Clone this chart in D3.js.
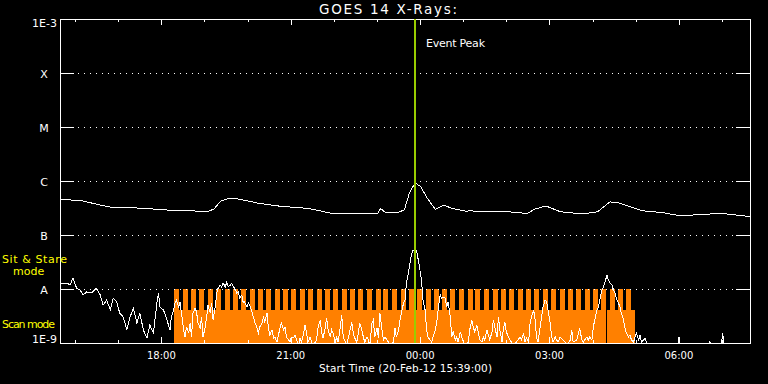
<!DOCTYPE html>
<html>
<head>
<meta charset="utf-8">
<script src="https://cdn.jsdelivr.net/npm/d3@7"></script>
<style>
  html, body { margin: 0; padding: 0; background: #000; }
  svg { display: block; }
  text { font-family: "DejaVu Sans", sans-serif; fill: #fff; }
</style>
</head>
<body>
<div id="chart"></div>
<script>
// GOES 14 X-ray flux, 20-Feb-12 15:39 to 21-Feb-12 07:39 (minutes since start)
var startTime = Date.UTC(2012, 1, 20, 15, 39);
var spanMinutes = 960;
var eventPeakMinute = 494;
var NANO = 1e-9;

// long channel (1-8 A), W/m^2
var longChannel = [
    [0, 4.6e-7], [30, 4.3e-7], [56, 3.6e-7], [69, 3.3e-7], [101, 3.2e-7], [134, 3.0e-7],
    [165, 2.8e-7], [185, 2.8e-7], [204, 2.7e-7], [214, 3.0e-7], [224, 4.3e-7], [236, 4.8e-7],
    [250, 4.6e-7], [275, 3.9e-7], [307, 3.4e-7], [346, 3.1e-7], [379, 2.5e-7], [424, 2.45e-7],
    [442, 2.5e-7], [446, 3.1e-7], [453, 2.6e-7], [469, 2.6e-7], [479, 2.9e-7], [486, 5.9e-7],
    [494, 9.3e-7], [502, 7.8e-7], [511, 4.8e-7], [522, 3.0e-7], [534, 3.55e-7], [546, 3.1e-7],
    [566, 2.75e-7], [572, 2.9e-7], [576, 2.75e-7], [617, 2.75e-7], [650, 2.5e-7], [660, 3.0e-7],
    [676, 3.45e-7], [696, 2.7e-7], [728, 2.45e-7], [748, 2.7e-7], [765, 4.1e-7], [776, 4.0e-7],
    [811, 2.8e-7], [838, 2.6e-7], [864, 2.25e-7], [889, 2.4e-7], [921, 2.5e-7], [960, 2.2e-7]
];

// short channel (0.5-4 A), in units of 1E-9 W/m^2
var shortChannel = [
    [0,12.9],[4,12.4],[10,12.9],[14,11.8],[18,16.0],[21,12.4],[23,10.4],[28,9.58],[32,7.74],[37,8.80],
    [44,8.43],[51,10.4],[56,7.74],[60,5.05],[65,6.26],[70,4.08],[74,6.81],[79,5.75],[83,3.59],[88,3.03],
    [93,1.74],[97,2.90],[102,4.44],[107,2.34],[111,3.59],[116,1.74],[121,1.24],[125,2.15],[130,1.53],[135,5.75],
    [137,8.43],[139,4.64],[144,4.08],[148,2.90],[153,1.74],[155,3.03],[158,4.08],[160,5.51],[162,6.26],[165,4.64],
    [167,5.75],[169,3.59],[172,1.74],[174,1.29],[176,1.98],[179,1.53],[181,2.34],[183,1.29],[185,3.59],[188,4.44],
    [190,3.75],[192,2.34],[195,1.90],[197,3.03],[199,1.29],[202,1.98],[204,3.03],[206,5.05],[209,3.59],[211,5.51],
    [213,2.67],[216,4.64],[218,8.43],[220,10.4],[223,11.8],[225,10.9],[227,12.9],[230,10.9],[232,13.5],[234,10.9],
    [237,11.8],[239,12.9],[241,10.9],[243,10.4],[246,8.43],[248,8.80],[250,6.81],[253,7.74],[255,5.51],[257,5.75],
    [260,4.64],[262,5.51],[264,5.05],[267,3.75],[269,3.03],[271,2.45],[274,1.90],[276,1.53],[278,1.98],[281,2.34],
    [283,3.03],[285,2.45],[288,3.59],[290,1.90],[292,1.41],[295,1.74],[297,1.24],[299,1.29],[302,1.04],[304,1.41],
    [306,1.90],[308,2.34],[311,1.74],[313,1.98],[315,1.29],[318,1.14],[320,1.04],[322,1.29],[325,1.24],[327,1.41],
    [329,1.14],[332,0.9],[334,1.24],[336,1.04],[339,1.53],[341,2.15],[343,1.53],[345,1.04],[348,1.29],[350,1.04],
    [352,0.9],[357,1.14],[359,1.90],[362,2.67],[364,1.53],[366,1.24],[369,1.90],[371,2.90],[373,1.74],[376,1.29],
    [378,1.74],[380,1.53],[383,1.04],[385,1.29],[387,1.04],[390,1.98],[392,3.30],[394,1.29],[397,1.04],[399,0.9],
    [401,1.24],[403,1.60],[406,2.45],[408,1.53],[410,1.24],[413,1.04],[415,1.53],[417,2.34],[420,1.74],[422,1.29],
    [424,1.04],[427,1.29],[429,1.14],[431,0.9],[434,2.34],[436,2.67],[438,1.29],[441,1.90],[443,1.24],[445,3.59],
    [448,1.74],[450,1.14],[452,1.29],[455,1.14],[457,1.04],[459,0.9],[464,1.04],[466,1.90],[468,1.29],[471,1.74],
    [473,2.67],[475,3.59],[478,5.51],[480,6.26],[482,12.9],[485,20.6],[488,37.5],[491,52.7],[496,52.7],[499,31.6],
    [503,14.7],[505,6.26],[508,4.08],[510,1.74],[512,1.29],[515,1.14],[517,1.04],[519,1.29],[522,1.74],[524,2.34],
    [526,4.08],[529,7.74],[531,6.81],[533,7.11],[536,6.81],[538,4.64],[540,5.75],[543,3.03],[545,1.29],[547,1.60],
    [550,1.14],[552,1.29],[554,1.04],[557,1.60],[559,1.29],[561,1.04],[563,0.9],[568,1.04],[570,1.74],[573,2.67],
    [575,1.98],[577,1.60],[580,2.15],[582,1.53],[584,1.14],[587,1.04],[589,1.29],[591,1.14],[594,1.74],[596,1.41],
    [598,1.14],[601,1.60],[603,2.67],[605,1.98],[608,1.29],[610,3.03],[612,1.74],[615,1.04],[617,1.90],[619,2.45],
    [621,1.60],[624,1.29],[626,1.14],[628,1.04],[631,0.9],[635,1.04],[640,1.29],[642,1.14],[645,1.53],[647,1.04],
    [649,1.24],[652,1.04],[654,2.34],[656,3.03],[659,4.08],[661,2.67],[663,1.29],[665,1.04],[668,1.98],[670,3.03],
    [672,4.64],[675,6.26],[677,5.75],[679,4.08],[682,2.34],[684,1.29],[686,1.04],[689,1.29],[691,1.14],[693,1.04],
    [696,1.29],[700,1.14],[703,1.04],[705,0.9],[710,1.14],[712,1.74],[714,1.04],[719,1.14],[723,1.90],[726,1.14],
    [728,1.04],[733,1.29],[735,1.14],[737,1.29],[740,1.14],[742,1.98],[744,2.67],[747,4.08],[749,4.64],[751,6.26],
    [754,9.58],[756,10.9],[758,12.9],[761,18.2],[763,14.7],[765,12.9],[768,11.8],[770,9.58],[772,8.43],[775,6.26],
    [777,5.51],[779,4.64],[781,3.59],[784,2.67],[786,1.90],[788,1.53],[791,1.29],[793,1.41],[795,1.14],[798,1.04],
    [800,1.29],[802,1.53],[805,1.14],[807,1.41],[809,1.04],[812,1.14],[814,1.24],[816,1.04],[819,0.9],[860,0.9],
    [861,1.29],[863,0.9],[903,0.9],[904,1.09],[906,0.9],[920,0.9],[922,1.53],[924,0.9],[960,0.9]
];

// instrument mode: sit & stare blocks (start minute) and scan intervals
var stareStarts = [159, 171, 182, 194, 206, 217, 229, 241, 252, 264, 276, 287, 299, 310, 322, 334,
    345, 357, 369, 380, 392, 404, 415, 427, 439, 450, 462, 474, 485, 497, 509, 520, 532, 543,
    555, 567, 578, 590, 602, 613, 625, 637, 648, 660, 672, 683, 695, 707, 718, 730, 742, 753,
    765, 776, 788];
var stareLength = 7;
var scanIntervals = [[159, 759], [760.5, 800]];
var scanTopLevel = 4.08e-9;

var levelValues = [1e-3, 1e-4, 1e-5, 1e-6, 1e-7, 1e-8, 1e-9];
var levelLabels = ["1E-3", "X", "M", "C", "B", "A", "1E-9"];

var width = 768, height = 384;
var plotLeft = 60, plotRight = 750, plotTop = 19, plotBottom = 343;

var toDate = function (m) { return new Date(startTime + m * 60000); };

var svg = d3.select("#chart").append("svg")
    .attr("width", width)
    .attr("height", height);

var x = d3.scaleUtc()
    .domain([toDate(0), toDate(spanMinutes)])
    .range([plotLeft, plotRight]);

var y = d3.scaleLog()
    .domain([1e-9, 1e-3])
    .range([plotBottom, plotTop]);

svg.append("defs").append("clipPath").attr("id", "plotclip")
    .append("rect")
    .attr("x", plotLeft).attr("y", plotTop)
    .attr("width", plotRight - plotLeft).attr("height", plotBottom - plotTop);

var plot = svg.append("g").attr("clip-path", "url(#plotclip)");

// mode bars
plot.selectAll("rect.scan")
    .data(scanIntervals)
    .join("rect")
    .attr("class", "scan")
    .attr("x", function (d) { return x(toDate(d[0])); })
    .attr("width", function (d) { return x(toDate(d[1])) - x(toDate(d[0])); })
    .attr("y", y(scanTopLevel))
    .attr("height", plotBottom - y(scanTopLevel))
    .attr("fill", "#ff8000")
    .attr("shape-rendering", "crispEdges");

plot.selectAll("rect.stare")
    .data(stareStarts)
    .join("rect")
    .attr("class", "stare")
    .attr("x", function (d) { return x(toDate(d)); })
    .attr("width", function (d) { return x(toDate(d + stareLength)) - x(toDate(d)); })
    .attr("y", y(1e-8))
    .attr("height", plotBottom - y(1e-8))
    .attr("fill", "#ff8000")
    .attr("shape-rendering", "crispEdges");

// dotted level lines
var inner = levelValues.slice(1, -1);
svg.append("g").selectAll("line")
    .data(inner)
    .join("line")
    .attr("x1", plotLeft + 18).attr("x2", plotRight - 17)
    .attr("y1", function (d) { return Math.round(y(d)) + 0.5; })
    .attr("y2", function (d) { return Math.round(y(d)) + 0.5; })
    .attr("stroke", "#fff")
    .attr("stroke-dasharray", "1,5")
    .attr("shape-rendering", "crispEdges");

// frame
svg.append("rect")
    .attr("x", plotLeft + 0.5).attr("y", plotTop + 0.5)
    .attr("width", plotRight - plotLeft).attr("height", plotBottom - plotTop)
    .attr("fill", "none").attr("stroke", "#fff")
    .attr("shape-rendering", "crispEdges");

// axes: ticks only, pointing inwards
var hourTicks = d3.utcHour.every(1);
var majorTicks = d3.utcHour.every(3);
function tickOnly(sel) { sel.select(".domain").remove(); sel.selectAll("text").remove(); }

svg.append("g").attr("transform", "translate(0," + plotBottom + ")")
    .call(d3.axisBottom(x).ticks(hourTicks).tickSize(-3)).call(tickOnly);
svg.append("g").attr("transform", "translate(0," + plotBottom + ")")
    .call(d3.axisBottom(x).ticks(majorTicks).tickSize(-6)).call(tickOnly);
svg.append("g").attr("transform", "translate(0," + plotTop + ")")
    .call(d3.axisTop(x).ticks(hourTicks).tickSize(-3)).call(tickOnly);
svg.append("g").attr("transform", "translate(0," + plotTop + ")")
    .call(d3.axisTop(x).ticks(majorTicks).tickSize(-6)).call(tickOnly);
svg.append("g").attr("transform", "translate(" + plotLeft + ",0)")
    .call(d3.axisLeft(y).tickValues(inner).tickSize(-14)).call(tickOnly);
svg.append("g").attr("transform", "translate(" + plotRight + ",0)")
    .call(d3.axisRight(y).tickValues(inner).tickSize(-14)).call(tickOnly);
svg.selectAll(".tick line").attr("stroke", "#fff").attr("shape-rendering", "crispEdges");

// flux curves
var lineLong = d3.line()
    .x(function (d) { return x(toDate(d[0])); })
    .y(function (d) { return y(d[1]); });
var lineShort = d3.line()
    .x(function (d) { return x(toDate(d[0])); })
    .y(function (d) { return y(d[1] * NANO); });

plot.append("path").datum(longChannel)
    .attr("d", lineLong)
    .attr("fill", "none").attr("stroke", "#fff").attr("stroke-width", 1)
    .attr("shape-rendering", "crispEdges");
plot.append("path").datum(shortChannel)
    .attr("d", lineShort)
    .attr("fill", "none").attr("stroke", "#fff").attr("stroke-width", 1)
    .attr("shape-rendering", "crispEdges");

// event peak marker
var px = Math.round(x(toDate(eventPeakMinute)));
svg.append("line")
    .attr("x1", px).attr("x2", px)
    .attr("y1", plotTop).attr("y2", plotBottom)
    .attr("stroke", "#99cc00").attr("stroke-width", 2)
    .attr("shape-rendering", "crispEdges");
svg.append("text")
    .attr("x", px + 11).attr("y", 47)
    .attr("font-size", 11)
    .attr("textLength", 59)
    .text("Event Peak");

// labels
svg.selectAll("text.level")
    .data(levelValues)
    .join("text")
    .attr("class", "level")
    .attr("font-size", 11)
    .attr("x", function (d, i) { return (i === 0 || i === 6) ? 57 : 44; })
    .attr("y", function (d, i) {
        if (i === 0) return y(d) + 8;
        if (i === 6) return y(d);
        return y(d) + 4.5;
    })
    .attr("text-anchor", function (d, i) { return (i === 0 || i === 6) ? "end" : "middle"; })
    .text(function (d, i) { return levelLabels[i]; });

svg.selectAll("text.hour")
    .data(x.ticks(majorTicks))
    .join("text")
    .attr("class", "hour")
    .attr("font-size", 10)
    .attr("x", function (d) { return x(d); })
    .attr("y", 359)
    .attr("text-anchor", "middle")
    .text(d3.utcFormat("%H:%M"));

svg.append("text")
    .attr("x", 319).attr("y", 14)
    .attr("font-size", 13.5)
    .attr("textLength", 138)
    .text("GOES 14 X-Rays:");

svg.append("text")
    .attr("x", 319).attr("y", 372)
    .attr("font-size", 10.5)
    .attr("textLength", 173)
    .text("Start Time (20-Feb-12 15:39:00)");

var modeLabels = svg.append("g");
modeLabels.append("text").attr("x", 2).attr("y", 263).attr("font-size", 11)
    .attr("textLength", 65).style("fill", "#ffff00").text("Sit & Stare");
modeLabels.append("text").attr("x", 13).attr("y", 275).attr("font-size", 11)
    .style("fill", "#ffff00").text("mode");
modeLabels.append("text").attr("x", 2).attr("y", 328).attr("font-size", 11)
    .attr("textLength", 53).style("fill", "#ffff00").text("Scan mode");
</script>
</body>
</html>
